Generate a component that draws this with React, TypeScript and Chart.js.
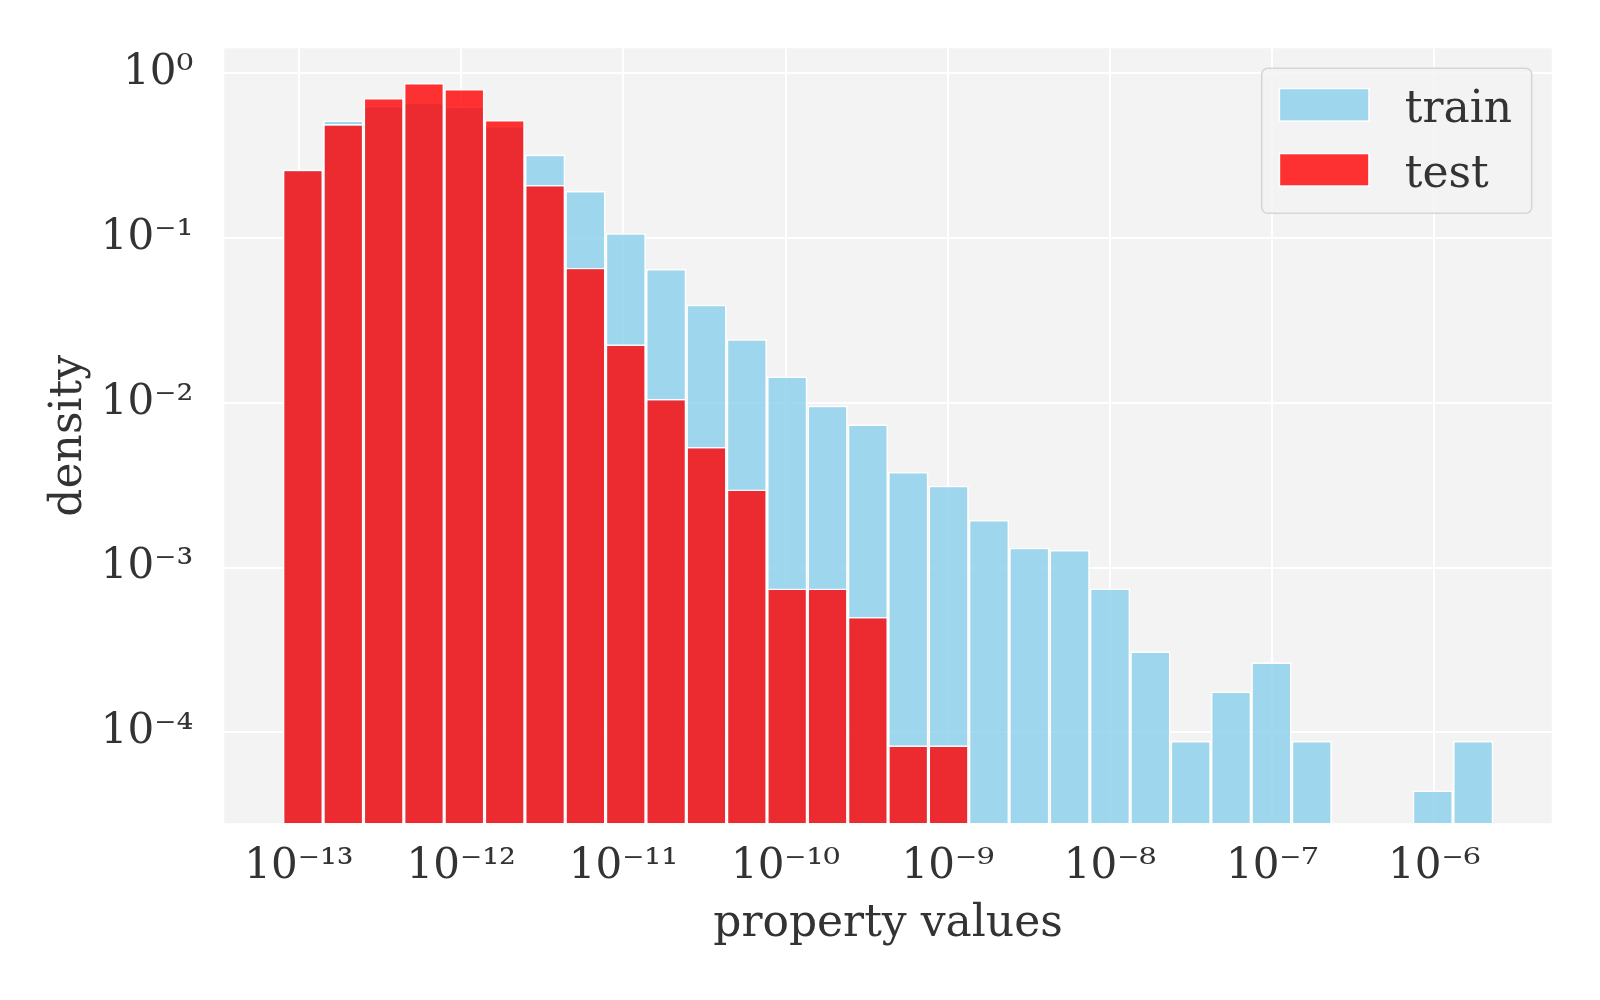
import React, { useEffect, useRef } from "react";
import { Chart, registerables } from "chart.js";

Chart.register(...registerables);

// Histogram bins (log10 of property value)
const binStartExp = -13.1;
const binWidthExp = 0.2488;

const trainDensity: (number | null)[] = [
  0.262, 0.517, 0.633, 0.663, 0.627, 0.479, 0.321, 0.193, 0.107, 0.0649,
  0.0394, 0.0243, 0.01445, 0.0096, 0.0074, 0.0038, 0.00314, 0.001944, 0.00132, 0.001278,
  0.000747, 0.00031, 0.0000886, 0.000177, 0.000266, 0.0000886, null, null, 0.0000444, 0.0000886,
];
const testDensity: (number | null)[] = [
  0.26, 0.492, 0.708, 0.873, 0.803, 0.521, 0.21, 0.066, 0.02265, 0.01055,
  0.0054, 0.00298, 0.000747, 0.000747, 0.000501, 0.0000833, 0.0000833,
];

const seriesLabels = ["train", "test"];
const xTickExps = [-13, -12, -11, -10, -9, -8, -7, -6];
const yTickExps = [0, -1, -2, -3, -4];
const xRangeExp = [-13.4605, -5.2763];
const yRangeExp = [-4.5524, 0.1517];

const SUP: Record<string, string> = {
  "-": "\u207B", "0": "\u2070", "1": "\u00B9", "2": "\u00B2", "3": "\u00B3",
  "4": "\u2074", "5": "\u2075", "6": "\u2076", "7": "\u2077", "8": "\u2078", "9": "\u2079",
};
const powLabel = (e: number) => "10" + String(e).split("").map((c) => SUP[c] ?? c).join("");

const FONT = "'DejaVu Serif', serif";
const TEXT = "#333333";
const BG = "rgb(243,243,243)";

const bgPlugin = {
  id: "plotBg",
  beforeDraw(chart: any) {
    const { ctx, chartArea } = chart;
    ctx.save();
    ctx.fillStyle = BG;
    ctx.fillRect(chartArea.left, chartArea.top, chartArea.right - chartArea.left, chartArea.bottom - chartArea.top);
    ctx.restore();
  },
};

const legendPlugin = {
  id: "boxLegend",
  afterDraw(chart: any) {
    const { ctx, chartArea } = chart;
    const w = 270, h = 145;
    const x = chartArea.right - 20 - w;
    const y = chartArea.top + 20;
    ctx.save();
    ctx.beginPath();
    (ctx as any).roundRect(x, y, w, h, 6);
    ctx.fillStyle = "rgba(243,243,243,0.8)";
    ctx.fill();
    ctx.lineWidth = 1.5;
    ctx.strokeStyle = "#d6d6d6";
    ctx.stroke();
    chart.data.datasets.forEach((ds: any, i: number) => {
      const py = y + 21 + i * 65;
      ctx.fillStyle = "#ffffff";
      ctx.fillRect(x + 17, py - 1.5, 91, 34);
      ctx.fillStyle = BG;
      ctx.fillRect(x + 18.5, py, 88, 31);
      ctx.fillStyle = ds.backgroundColor;
      ctx.fillRect(x + 18.5, py, 88, 31);
      ctx.fillStyle = TEXT;
      ctx.font = `44px ${FONT}`;
      ctx.textBaseline = "alphabetic";
      ctx.textAlign = "left";
      ctx.fillText(ds.label, x + 143, py + 32.5);
    });
    ctx.restore();
  },
};

export default function App() {
  const ref = useRef<HTMLCanvasElement | null>(null);

  useEffect(() => {
    if (!ref.current) return;
    const centers = trainDensity.map((_, i) => Math.pow(10, binStartExp + binWidthExp * (i + 0.5)));
    const toPoints = (vals: (number | null)[]) => vals.map((v, i) => ({ x: centers[i], y: v }));

    const chart = new Chart(ref.current, {
      type: "bar",
      data: {
        datasets: [
          {
            label: seriesLabels[0],
            data: toPoints(trainDensity) as any,
            backgroundColor: "rgba(135,206,235,0.8)",
            borderColor: "#ffffff",
            borderWidth: 1.6,
            barPercentage: 1,
            categoryPercentage: 1,
            grouped: false,
            inflateAmount: 0,
            order: 2,
          },
          {
            label: seriesLabels[1],
            data: toPoints(testDensity) as any,
            backgroundColor: "rgba(255,0,0,0.8)",
            borderColor: "rgba(255,255,255,0.9)",
            borderWidth: 1.6,
            barPercentage: 1,
            categoryPercentage: 1,
            grouped: false,
            inflateAmount: 0,
            order: 1,
          },
        ],
      },
      options: {
        responsive: false,
        animation: false,
        devicePixelRatio: 1,
        layout: { autoPadding: false, padding: { top: 48.3, right: 48.3, left: 0, bottom: 0 } },
        plugins: {
          legend: { display: false },
          tooltip: { enabled: false },
        },
        scales: {
          x: {
            type: "logarithmic",
            offset: false,
            min: Math.pow(10, xRangeExp[0]),
            max: Math.pow(10, xRangeExp[1]),
            afterBuildTicks: (scale: any) => {
              scale.ticks = xTickExps.map((e) => ({ value: Math.pow(10, e) }));
            },
            afterFit: (scale: any) => {
              scale.height = 176.7;
              scale.paddingLeft = 0;
              scale.paddingRight = 0;
              scale.paddingTop = 0;
              scale.paddingBottom = 0;
            },
            grid: { color: "#ffffff", lineWidth: 2, drawTicks: false, offset: false },
            border: { display: false },
            ticks: {
              padding: 19,
              autoSkip: false,
              maxRotation: 0,
              color: TEXT,
              font: { family: FONT, size: 42 },
              callback: (v: any) => powLabel(Math.round(Math.log10(Number(v)))),
            },
            title: {
              display: true,
              text: "property values",
              color: TEXT,
              font: { family: FONT, size: 44 },
              padding: { top: 0, bottom: 49 },
            },
          },
          y: {
            type: "logarithmic",
            min: Math.pow(10, yRangeExp[0]),
            max: Math.pow(10, yRangeExp[1]),
            afterBuildTicks: (scale: any) => {
              scale.ticks = yTickExps.map((e) => ({ value: Math.pow(10, e) }));
            },
            afterFit: (scale: any) => {
              scale.width = 224.3;
              scale.paddingLeft = 0;
              scale.paddingRight = 0;
              scale.paddingTop = 0;
              scale.paddingBottom = 0;
            },
            grid: { color: "#ffffff", lineWidth: 2, drawTicks: false },
            border: { display: false },
            ticks: {
              padding: 31,
              autoSkip: false,
              color: TEXT,
              font: { family: FONT, size: 42 },
              callback: (v: any) => powLabel(Math.round(Math.log10(Number(v)))),
            },
            title: {
              display: true,
              text: "density",
              color: TEXT,
              font: { family: FONT, size: 44 },
              padding: { top: 43, bottom: 0 },
            },
          },
        },
      },
      plugins: [bgPlugin, legendPlugin],
    });
    return () => chart.destroy();
  }, []);

  return (
    <div style={{ position: "fixed", left: 0, top: 0, width: 1600, height: 1000, background: "#ffffff" }}>
      <canvas ref={ref} width={1600} height={1000} style={{ width: 1600, height: 1000, display: "block" }} />
    </div>
  );
}
